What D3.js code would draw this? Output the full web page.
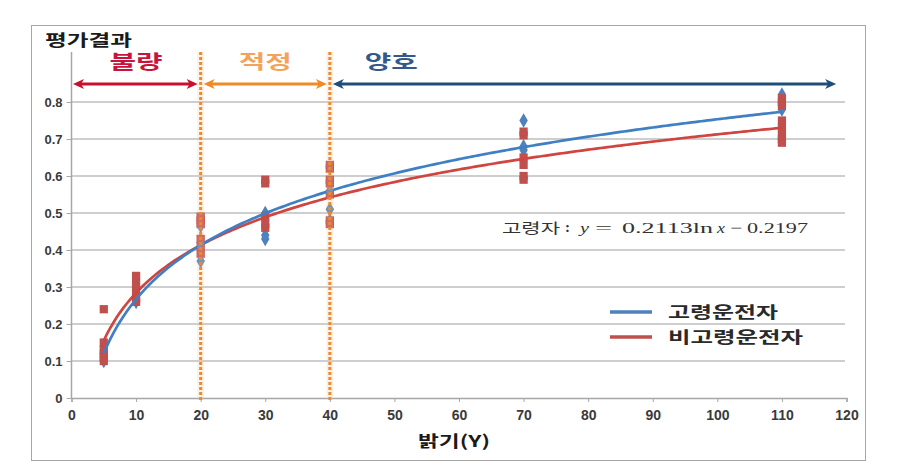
<!DOCTYPE html>
<html><head><meta charset="utf-8">
<script src="https://cdn.jsdelivr.net/npm/d3@7"></script>
<style>body{margin:0;background:#fff} svg{display:block}</style>
</head><body><svg id="c" width="899" height="468"></svg>
<script>
// ---------------- data ----------------
const categories = [5, 10, 20, 30, 40, 70, 110];
const elderlyValues = [
  [0.10, 0.12, 0.14],
  [0.26, 0.28, 0.30],
  [0.37, 0.42, 0.465],
  [0.43, 0.44, 0.50],
  [0.48, 0.51, 0.56],
  [0.67, 0.68, 0.75],
  [0.78, 0.82]
];
const nonElderlyValues = [
  [0.10, 0.11, 0.12, 0.13, 0.15, 0.24],
  [0.26, 0.27, 0.29, 0.31, 0.33],
  [0.39, 0.41, 0.43, 0.47, 0.48, 0.49],
  [0.46, 0.47, 0.49, 0.58, 0.59],
  [0.47, 0.48, 0.55, 0.58, 0.59, 0.62, 0.63],
  [0.59, 0.60, 0.63, 0.65, 0.71, 0.72],
  [0.69, 0.70, 0.71, 0.73, 0.75, 0.79, 0.80, 0.81]
];
const seriesNames = ["고령운전자", "비고령운전자"];
const elderlyTrend = [0.2113, -0.2197];     // y = a ln x + b
const nonElderlyTrend = [0.186, -0.144];
const xTicks = [0, 10, 20, 30, 40, 50, 60, 70, 80, 90, 100, 110, 120];
const yTicks = [0, 0.1, 0.2, 0.3, 0.4, 0.5, 0.6, 0.7, 0.8];
const zoneLabels = ["불량", "적정", "양호"];
const zoneStarts = [0, 20, 40];
const zoneEnds = [20, 40, 118.4];
const zoneLabelX = [10, 30, 49.5];
const zoneBounds = [20, 40];
const yTitle = "평가결과";
const xTitle = "밝기(Y)";

// ---------------- setup ----------------
const svg = d3.select("#c");
const x = d3.scaleLinear().domain([0, 120]).range([71.5, 846.5]);
const y = d3.scaleLinear().domain([0, 0.8]).range([398, 102]);
const KR = "'Noto Sans CJK KR', 'Noto Sans', sans-serif";
const NUM = "'Liberation Sans', Arial, sans-serif";
const SERIF = "'Liberation Serif', 'DejaVu Serif', serif";
const BLUE = "#4F81BD", RED = "#C0504D";
const ORANGE = "#EE8A2C";

function stext(str, px, py, width, size, weight, color, family, style) {
  const t = svg.append("text").attr("x", px).attr("y", py)
    .attr("font-size", size).attr("font-weight", weight || "normal")
    .attr("fill", color).attr("font-family", family)
    .text(str);
  if (style) t.attr("font-style", style);
  if (width) t.attr("textLength", width).attr("lengthAdjust", "spacingAndGlyphs");
  return t;
}

// border
svg.append("rect").attr("x", 31.5).attr("y", 25.5).attr("width", 834).attr("height", 435)
  .attr("fill", "#fff").attr("stroke", "#A6A6A6").attr("stroke-width", 1);

// grid
svg.append("g").selectAll("line").data(yTicks.filter(d => d > 0)).join("line")
  .attr("x1", x(0)).attr("x2", 845).attr("y1", d => y(d)).attr("y2", d => y(d))
  .attr("stroke", "#BEBEBE").attr("stroke-width", 1.5);

// axes
const xAxis = d3.axisBottom(x).tickValues(xTicks).tickSize(4).tickFormat(d3.format("d"));
const gx = svg.append("g").attr("transform", `translate(0,${y(0)})`).call(xAxis);
gx.select(".domain").attr("stroke", "#A6A6A6").attr("stroke-width", 1.5);
gx.selectAll(".tick line").attr("stroke", "#A6A6A6");
gx.selectAll(".tick text").attr("font-family", NUM).attr("font-weight", "bold")
  .attr("font-size", 14).attr("fill", "#3a3a3a").attr("dy", 0).attr("y", 22);

const yAxis = d3.axisLeft(y).tickValues(yTicks).tickSize(5).tickFormat(d => d === 0 ? "0" : d3.format(".1f")(d));
const gy = svg.append("g").attr("transform", `translate(${x(0)},0)`).call(yAxis);
gy.select(".domain").remove();
gy.selectAll(".tick line").attr("stroke", "#A6A6A6");
gy.selectAll(".tick text").attr("font-family", NUM).attr("font-weight", "bold")
  .attr("font-size", 13).attr("fill", "#3a3a3a").attr("x", -9);
svg.append("line").attr("x1", x(0)).attr("x2", x(0)).attr("y1", 52).attr("y2", y(0))
  .attr("stroke", "#A6A6A6").attr("stroke-width", 1.5);

// markers
const flat = (vals) => vals.flatMap((arr, i) => arr.map(v => ({ x: categories[i], y: v })));
svg.append("g").selectAll("path").data(flat(elderlyValues)).join("path")
  .attr("d", d3.symbol(d3.symbolDiamond, 62))
  .attr("transform", d => `translate(${x(d.x)},${y(d.y)})`)
  .attr("fill", BLUE);
svg.append("g").selectAll("path").data(flat(nonElderlyValues)).join("path")
  .attr("d", d3.symbol(d3.symbolSquare, 68))
  .attr("transform", d => `translate(${x(d.x)},${y(d.y)})`)
  .attr("fill", RED);

// trend lines
const xs = d3.range(categories[0], categories[categories.length - 1] + 0.001, 0.5);
const line = d3.line().x(d => x(d[0])).y(d => y(d[1])).curve(d3.curveLinear);
function trend(coef) { return xs.map(v => [v, coef[0] * Math.log(v) + coef[1]]); }
svg.append("path").attr("d", line(trend(nonElderlyTrend))).attr("fill", "none")
  .attr("stroke", "#D0453F").attr("stroke-width", 2.7);
svg.append("path").attr("d", line(trend(elderlyTrend))).attr("fill", "none")
  .attr("stroke", "#3F7FC4").attr("stroke-width", 2.7);

// dotted zone boundaries
zoneBounds.forEach(b => {
  svg.append("line").attr("x1", x(b)).attr("x2", x(b)).attr("y1", 52).attr("y2", 400)
    .attr("stroke", "#F7C79A").attr("stroke-width", 7).attr("stroke-opacity", 0.25);
  svg.append("line").attr("x1", x(b)).attr("x2", x(b)).attr("y1", 52).attr("y2", 400)
    .attr("stroke", ORANGE).attr("stroke-width", 3).attr("stroke-dasharray", "3,2");
});

// arrows
const arrowColors = ["#C8102E", "#F08A24", "#1F4E79"];
const labelColors = ["#C8143C", "#F4A259", "#33598A"];
const AY = 84;
function arrowHead(px, dir, color) {
  const L = 11, W = 5, N = 3;
  const p = `M${px},${AY} L${px - dir * L},${AY - W} L${px - dir * (L - N)},${AY} L${px - dir * L},${AY + W} Z`;
  svg.append("path").attr("d", p).attr("fill", color);
}
zoneLabels.forEach((lab, i) => {
  const x1 = x(zoneStarts[i]) + (i === 0 ? 1.5 : 3);
  const x2 = x(zoneEnds[i]) - (i === 2 ? 0 : 3);
  svg.append("line").attr("x1", x1 + 4).attr("x2", x2 - 4).attr("y1", AY).attr("y2", AY)
    .attr("stroke", arrowColors[i]).attr("stroke-width", 3);
  arrowHead(x1, -1, arrowColors[i]);
  arrowHead(x2, 1, arrowColors[i]);
  stext(lab, x(zoneLabelX[i]) - 26.5, 69, 53, 19, "bold", labelColors[i], KR);
});

// titles
stext(yTitle, 45, 46, 87, 16, "bold", "#1a1a1a", KR);
stext(xTitle, 418, 447, 72, 16, "bold", "#1a1a1a", KR);

// equation
const EY = 233;
stext("고령자", 502, EY, 58, 14, "normal", "#333", KR);
stext(":", 565, EY - 1, 5, 14, "bold", "#333", SERIF);
stext("y", 580, EY, 9, 15, "normal", "#333", SERIF, "italic");
stext("=", 595, EY, 17, 15, "normal", "#333", SERIF);
stext("0.2113ln", 622, EY, 91, 15, "normal", "#333", SERIF);
stext("x", 717, EY, 8, 15, "normal", "#333", SERIF, "italic");
stext("−", 730, EY, 12, 15, "normal", "#333", SERIF);
stext("0.2197", 747, EY, 61, 15, "normal", "#333", SERIF);

// legend
const legY = [312, 337];
const legW = [110, 135];
[BLUE, RED].forEach((c, i) => {
  svg.append("line").attr("x1", 610).attr("x2", 652).attr("y1", legY[i]).attr("y2", legY[i])
    .attr("stroke", c).attr("stroke-width", 3.5);
  stext(seriesNames[i], 668, legY[i] + 6, legW[i], 16, "bold", "#2a2a2a", KR);
});
</script></body></html>
